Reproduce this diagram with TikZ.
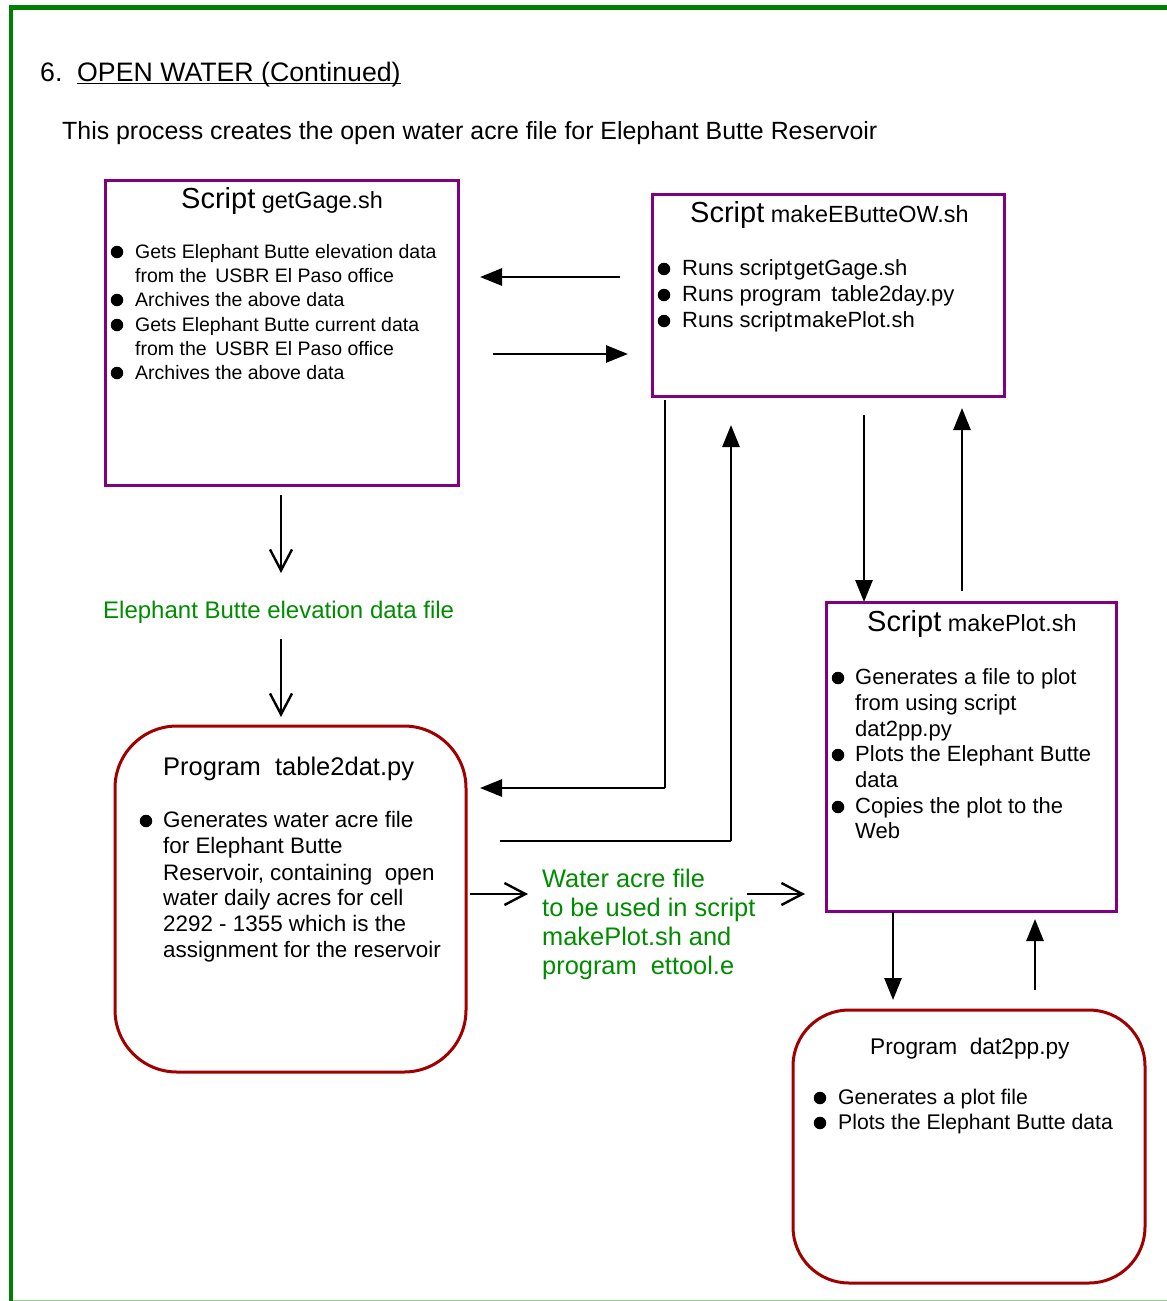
\documentclass[tikz,border=0pt]{standalone}
\usepackage{fontspec}
\setmainfont{Liberation Sans}
\usetikzlibrary{arrows.meta}
\definecolor{framegreen}{RGB}{0,128,0}
\definecolor{lightgreen}{RGB}{150,210,150}
\definecolor{boxpurple}{RGB}{128,0,128}
\definecolor{boxred}{RGB}{160,0,0}
\definecolor{txtgreen}{RGB}{0,140,0}
\tikzset{
  sqbox/.style={draw=boxpurple,line width=3pt},
  rbox/.style={draw=boxred,line width=3pt},
  solidarrow/.style={draw=black,line width=2.8pt,-{Triangle[length=22pt,width=17pt]}},
  openarrow/.style={draw=black,line width=2.4pt,-{Straight Barb[length=21pt,width=22pt,line width=2.4pt]}},
  plainline/.style={draw=black,line width=2.8pt},
  txt/.style={inner sep=0pt,anchor=base west},
  bul/.style={circle,fill=black,inner sep=0pt,minimum size=12.5pt},
}
\newcommand{\fsz}[1]{\fontsize{#1}{#1}\selectfont}
\begin{document}
\begin{tikzpicture}[x=1pt,y=-1pt]
\useasboundingbox (0,0) rectangle (1167,1301);
% frame
\draw[framegreen,line width=5pt] (9,7.5) -- (1167,7.5);
\draw[framegreen,line width=4pt] (11,5) -- (11,1301);
\draw[lightgreen,line width=1pt] (13,1300) -- (1167,1300);

% heading
\node[txt] (head1) at (40,81) {\fsz{26.7}6.};
\node[txt] (head2) at (77,81) {\fsz{26.7}OPEN WATER (Continued)};
\draw[black,line width=1.3pt] ([yshift=-2.5pt]head2.base west) -- ([yshift=-2.5pt]head2.base east);
\node[txt] (intro) at (62,139) {\fsz{24.9}This process creates the open water acre file for Elephant Butte Reservoir};

% getGage box
\draw[sqbox] (105,180) rectangle (458,485);
\node[txt] (ggt) at (181,208) {\fsz{29}Script{\fsz{23.4}\ getGage.sh}};
\begin{scope}[every node/.style={txt}]
\node (gg1) at (135,258) {\fsz{19.5}Gets Elephant Butte elevation data};
\node (gg2) at (135,282) {\fsz{19.5}from the \,USBR El Paso office};
\node (gg3) at (135,306) {\fsz{19.5}Archives the above data};
\node (gg4) at (135,331) {\fsz{19.5}Gets Elephant Butte current data};
\node (gg5) at (135,355) {\fsz{19.5}from the \,USBR El Paso office};
\node (gg6) at (135,379) {\fsz{19.5}Archives the above data};
\end{scope}
\node[bul] (b1) at (117,252) {};
\node[bul] (b2) at (117,300) {};
\node[bul] (b3) at (117,325) {};
\node[bul] (b4) at (117,373) {};

% makeEButteOW box
\draw[sqbox] (652,194) rectangle (1004,396);
\node[txt] (mbt) at (690,222) {\fsz{29}Script{\fsz{23.4}\ makeEButteOW.sh}};
\begin{scope}[every node/.style={txt}]
\node (mb1) at (682,275) {\fsz{22}Runs script\kern1.5pt getGage.sh};
\node (mb2) at (682,301) {\fsz{22}Runs program \,table2day.py};
\node (mb3) at (682,327) {\fsz{22}Runs script\kern1.5pt makePlot.sh};
\end{scope}
\node[bul] (b5) at (664,269) {};
\node[bul] (b6) at (664,295) {};
\node[bul] (b7) at (664,321) {};

% arrows between top boxes
\coordinate (a1s) at (620,277); \coordinate (a1e) at (480,277);
\draw[solidarrow] (a1s) -- (a1e);
\coordinate (a2s) at (493,354); \coordinate (a2e) at (628,354);
\draw[solidarrow] (a2s) -- (a2e);

% elevation data file
\coordinate (e1s) at (281,495); \coordinate (e1e) at (281,573);
\draw[openarrow] (e1s) -- (e1e);
\node[txt] (elev) at (103,618) {\fsz{24}\color{txtgreen}Elephant Butte elevation data file};
\coordinate (e2s) at (281,639); \coordinate (e2e) at (281,717);
\draw[openarrow] (e2s) -- (e2e);

% table2dat box
\draw[rbox,rounded corners=62pt] (115,726) rectangle (466,1072);
\node[txt] (tdt) at (163,775) {\fsz{25.5}Program \ table2dat.py};
\begin{scope}[every node/.style={txt}]
\node (td1) at (163,827) {\fsz{22.4}Generates water acre file};
\node (td2) at (163,853) {\fsz{22.4}for Elephant Butte};
\node (td3) at (163,880) {\fsz{22.4}Reservoir, containing \ open};
\node (td4) at (163,905) {\fsz{22.4}water daily acres for cell};
\node (td5) at (163,931) {\fsz{22.4}2292 - 1355 which is the};
\node (td6) at (163,957) {\fsz{22.4}assignment for the reservoir};
\end{scope}
\node[bul] (b8) at (146,821) {};

% connectors makeEButteOW <-> table2dat
\coordinate (c1a) at (665,400); \coordinate (c1b) at (665,788); \coordinate (c1c) at (480,788);
\draw[plainline] (c1a) -- (c1b);
\draw[solidarrow] (c1b) -- (c1c);
\coordinate (c2a) at (500,841); \coordinate (c2b) at (731,841); \coordinate (c2c) at (731,425);
\draw[plainline] (c2a) -- (c2b);
\draw[solidarrow] (c2b) -- (c2c);

% water acre file label
\coordinate (w1s) at (470,894); \coordinate (w1e) at (528,894);
\draw[openarrow] (w1s) -- (w1e);
\begin{scope}[every node/.style={txt}]
\node (wa1) at (542,887) {\fsz{25.4}\color{txtgreen}Water acre file};
\node (wa2) at (542,916) {\fsz{25.4}\color{txtgreen}to be used in script};
\node (wa3) at (542,945) {\fsz{25.4}\color{txtgreen}makePlot.sh and};
\node (wa4) at (542,974) {\fsz{25.4}\color{txtgreen}program \ ettool.e};
\end{scope}
\coordinate (w2s) at (747,894); \coordinate (w2e) at (805,894);
\draw[openarrow] (w2s) -- (w2e);

% makeEButteOW <-> makePlot
\coordinate (m1s) at (864,415); \coordinate (m1e) at (864,602);
\draw[solidarrow] (m1s) -- (m1e);
\coordinate (m2s) at (962,591); \coordinate (m2e) at (962,408);
\draw[solidarrow] (m2s) -- (m2e);

% makePlot box
\draw[sqbox] (826,602) rectangle (1116,911);
\node[txt] (mpt) at (867,631) {\fsz{29}Script{\fsz{23.4}\ makePlot.sh}};
\begin{scope}[every node/.style={txt}]
\node (mp1) at (855,684) {\fsz{22}Generates a file to plot};
\node (mp2) at (855,710) {\fsz{22}from using script};
\node (mp3) at (855,736) {\fsz{22}dat2pp.py};
\node (mp4) at (855,761) {\fsz{22}Plots the Elephant Butte};
\node (mp5) at (855,787) {\fsz{22}data};
\node (mp6) at (855,813) {\fsz{22}Copies the plot to the};
\node (mp7) at (855,838) {\fsz{22}Web};
\end{scope}
\node[bul] (b9) at (838,678) {};
\node[bul] (b10) at (838,755) {};
\node[bul] (b11) at (838,807) {};

% makePlot <-> dat2pp
\coordinate (p1s) at (893,912); \coordinate (p1e) at (893,1000);
\draw[solidarrow] (p1s) -- (p1e);
\coordinate (p2s) at (1035,990); \coordinate (p2e) at (1035,919);
\draw[solidarrow] (p2s) -- (p2e);

% dat2pp box
\draw[rbox,rounded corners=56pt] (793,1010) rectangle (1145,1283);
\node[txt] (dpt) at (870,1054) {\fsz{22.7}Program \ dat2pp.py};
\begin{scope}[every node/.style={txt}]
\node (dp1) at (838,1104) {\fsz{21.2}Generates a plot file};
\node (dp2) at (838,1129) {\fsz{21.2}Plots the Elephant Butte data};
\end{scope}
\node[bul] (b12) at (820,1098) {};
\node[bul] (b13) at (820,1123) {};
\end{tikzpicture}
\end{document}
